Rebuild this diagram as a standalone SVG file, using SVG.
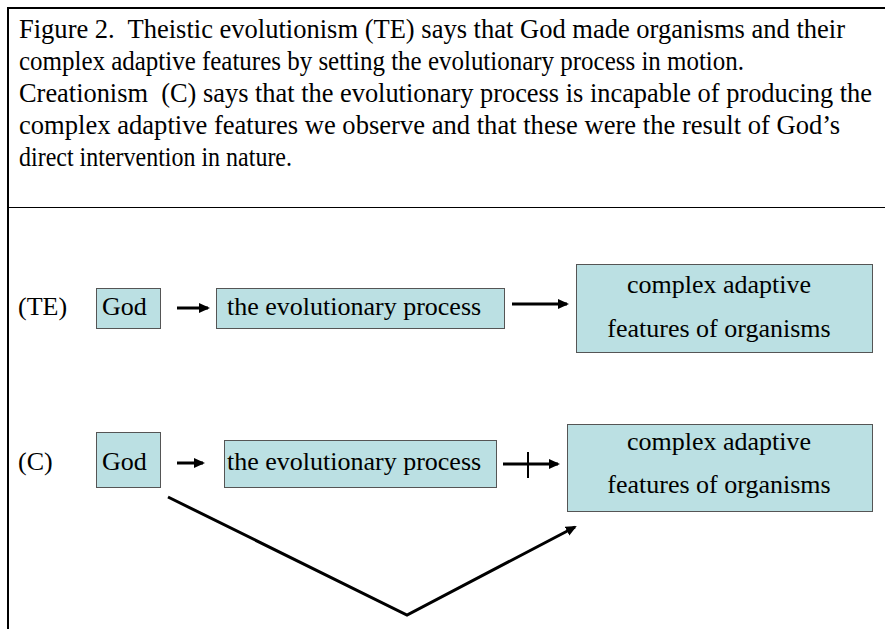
<svg xmlns="http://www.w3.org/2000/svg" width="885" height="629" viewBox="0 0 885 629">
<style>
text{font-family:"Liberation Serif","Times New Roman",serif;fill:#000}
.cap{font-size:27px}
.lbl{font-size:26px}
.box{fill:#BBE0E3;stroke:#555;stroke-width:1}
.ln{stroke:#000;stroke-width:3;fill:none}
</style>
<defs>
<marker id="ah" markerWidth="11" markerHeight="10" refX="9" refY="5" orient="auto" markerUnits="userSpaceOnUse">
<path d="M0,0 L11,5 L0,10 z" fill="#000"/>
</marker>
</defs>
<rect width="885" height="629" fill="#fff"/>
<g id="frame">
<path d="M8,629 V8 H885" stroke="#000" stroke-width="2" fill="none"/>
<line x1="8" y1="207.5" x2="885" y2="207.5" stroke="#000" stroke-width="1"/>
</g>
<g id="caption" class="cap" font-family="Liberation Serif">
<text x="19" y="38" xml:space="preserve" textLength="826" lengthAdjust="spacingAndGlyphs">Figure 2.  Theistic evolutionism (TE) says that God made organisms and their</text>
<text x="19" y="70" textLength="725" lengthAdjust="spacingAndGlyphs">complex adaptive features by setting the evolutionary process in motion.</text>
<text x="19" y="102" xml:space="preserve" font-size="26.3" textLength="853" lengthAdjust="spacingAndGlyphs">Creationism  (C) says that the evolutionary process is incapable of producing the</text>
<text x="19" y="134" textLength="821" lengthAdjust="spacingAndGlyphs">complex adaptive features we observe and that these were the result of God’s</text>
<text x="19" y="166" textLength="273" lengthAdjust="spacingAndGlyphs">direct intervention in nature.</text>
</g>
<g id="label-te"><text class="lbl" x="18" y="315">(TE)</text></g>
<g id="te-god"><rect class="box" x="96.5" y="288.5" width="64" height="40"/><text class="lbl" x="102" y="315">God</text></g>
<g id="te-process"><rect class="box" x="216.5" y="288.5" width="288" height="40"/><text class="lbl" x="227" y="315">the evolutionary process</text></g>
<g id="te-features"><rect class="box" x="576.5" y="264.5" width="296" height="88"/><text class="lbl" x="719" y="293" text-anchor="middle">complex adaptive</text><text class="lbl" x="719" y="337" text-anchor="middle">features of organisms</text></g>
<g id="label-c"><text class="lbl" x="18" y="470">(C)</text></g>
<g id="c-god"><rect class="box" x="96.5" y="432.5" width="64" height="55"/><text class="lbl" x="102" y="470">God</text></g>
<g id="c-process"><rect class="box" x="224.5" y="440.5" width="272" height="47"/><text class="lbl" x="227" y="470">the evolutionary process</text></g>
<g id="c-features"><rect class="box" x="567.5" y="424.5" width="305" height="87"/><text class="lbl" x="719" y="450" text-anchor="middle">complex adaptive</text><text class="lbl" x="719" y="493" text-anchor="middle">features of organisms</text></g>
<g id="connectors">
<line class="ln" x1="177" y1="308" x2="208" y2="308" marker-end="url(#ah)"/>
<line class="ln" x1="512" y1="304" x2="567" y2="304" marker-end="url(#ah)"/>
<line class="ln" x1="177" y1="463" x2="203" y2="463" marker-end="url(#ah)"/>
<line class="ln" x1="503" y1="464" x2="558" y2="464" marker-end="url(#ah)"/>
<line x1="528" y1="452" x2="528" y2="478" stroke="#000" stroke-width="2"/>
<polyline class="ln" points="168,497 407,615 575,527" marker-end="url(#ah)"/>
</g>
</svg>
